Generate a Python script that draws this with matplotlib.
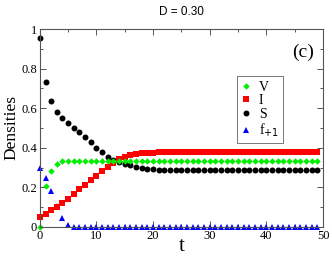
import numpy as np
import matplotlib
matplotlib.use('Agg')
import matplotlib.pyplot as plt
from matplotlib.ticker import MultipleLocator

# DATA------------------------------------------------------------------------------------------------------------------
t = list(range(50))

S = [0.955, 0.730, 0.637, 0.582, 0.548, 0.524, 0.500, 0.478, 0.453, 0.427,
     0.400, 0.376, 0.355, 0.338, 0.326, 0.318, 0.311, 0.303, 0.297, 0.293,
     0.290, 0.288, 0.287, 0.286, 0.286, 0.285, 0.285, 0.285, 0.285, 0.285,
     0.285, 0.285, 0.285, 0.285, 0.285, 0.285, 0.285, 0.285, 0.285, 0.285,
     0.285, 0.285, 0.285, 0.285, 0.285, 0.285, 0.285, 0.285, 0.285, 0.285]

I = [0.050, 0.067, 0.084, 0.101, 0.122, 0.143, 0.165, 0.189, 0.211, 0.236,
     0.258, 0.282, 0.304, 0.325, 0.342, 0.354, 0.362, 0.367, 0.371, 0.373,
     0.375, 0.376, 0.377, 0.378, 0.378, 0.378, 0.378, 0.378, 0.378, 0.378,
     0.378, 0.378, 0.378, 0.378, 0.378, 0.378, 0.378, 0.378, 0.378, 0.378,
     0.378, 0.378, 0.378, 0.378, 0.378, 0.378, 0.378, 0.378, 0.378, 0.378]

V = [0.000, 0.208, 0.280, 0.320, 0.332, 0.333, 0.333, 0.333, 0.333, 0.333,
     0.333, 0.333, 0.333, 0.333, 0.333, 0.333, 0.333, 0.333, 0.333, 0.333,
     0.333, 0.333, 0.333, 0.333, 0.333, 0.333, 0.333, 0.333, 0.333, 0.333,
     0.333, 0.333, 0.333, 0.333, 0.333, 0.333, 0.333, 0.333, 0.333, 0.333,
     0.333, 0.333, 0.333, 0.333, 0.333, 0.333, 0.333, 0.333, 0.333, 0.333]

f1 = [0.300, 0.245, 0.180, 0.105, 0.045, 0.012, 0.0, 0.0, 0.0, 0.0,
      0.0, 0.0, 0.0, 0.0, 0.0, 0.0, 0.0, 0.0, 0.0, 0.0,
      0.0, 0.0, 0.0, 0.0, 0.0, 0.0, 0.0, 0.0, 0.0, 0.0,
      0.0, 0.0, 0.0, 0.0, 0.0, 0.0, 0.0, 0.0, 0.0, 0.0,
      0.0, 0.0, 0.0, 0.0, 0.0, 0.0, 0.0, 0.0, 0.0, 0.0]

# PLOT------------------------------------------------------------------------------------------------------------------
serif = ['Liberation Serif', 'DejaVu Serif']

fig = plt.figure(figsize=(3.32, 2.59), dpi=100)
ax = fig.add_axes([0.12, 0.124, 0.853, 0.764])

hf, = ax.plot(t, f1, '^', color='#0000ff', ms=4.0, mew=0, clip_on=False, label='f$_{+1}$')
hs, = ax.plot(t, S, 'o', color='black', ms=4.3, mew=0, clip_on=False, label='S')
hi, = ax.plot(t, I, 's', color='#ff0000', ms=3.8, mew=0, clip_on=False, label='I')
hv, = ax.plot(t, V, 'D', color='#00ee00', ms=3.3, mew=0, clip_on=False, label='V')

ax.set_xlim(0, 50)
ax.set_ylim(0, 1)
ax.xaxis.set_major_locator(MultipleLocator(10))
ax.xaxis.set_minor_locator(MultipleLocator(5))
ax.yaxis.set_major_locator(MultipleLocator(0.2))
ax.yaxis.set_minor_locator(MultipleLocator(0.1))
ax.set_yticks([0, 0.2, 0.4, 0.6, 0.8, 1])
ax.set_yticklabels(['0', '0.2', '0.4', '0.6', '0.8', '1'])
ax.tick_params(which='both', direction='in', top=True, right=True, color='#555555', width=0.7, pad=2)
ax.tick_params(which='major', length=4)
ax.tick_params(which='minor', length=2)
for lab in ax.get_xticklabels() + ax.get_yticklabels():
    lab.set_family(serif)
    lab.set_fontsize(9)
for sp in ax.spines.values():
    sp.set_color('#555555')
    sp.set_linewidth(0.8)

ax.set_xlabel('t', family=serif, fontsize=15, labelpad=-3)
ax.set_ylabel('Densities', family=serif, fontsize=12.5, labelpad=1)
ax.set_title('D = 0.30', family=['Liberation Sans', 'DejaVu Sans'], fontsize=8.5, pad=10)
ax.text(0.93, 0.88, '(c)', transform=ax.transAxes, family=serif, fontsize=14, ha='center', va='center')

leg = ax.legend(handles=[hv, hi, hs, hf], loc='upper left', bbox_to_anchor=(0.695, 0.76),
                prop={'family': serif, 'size': 10}, frameon=True, fancybox=False,
                handlelength=0.8, handletextpad=0.5, borderpad=0.3, labelspacing=0.05,
                borderaxespad=0)
leg.get_frame().set_edgecolor('#555555')
leg.get_frame().set_linewidth(0.7)

plt.savefig('out.png', dpi=100)
